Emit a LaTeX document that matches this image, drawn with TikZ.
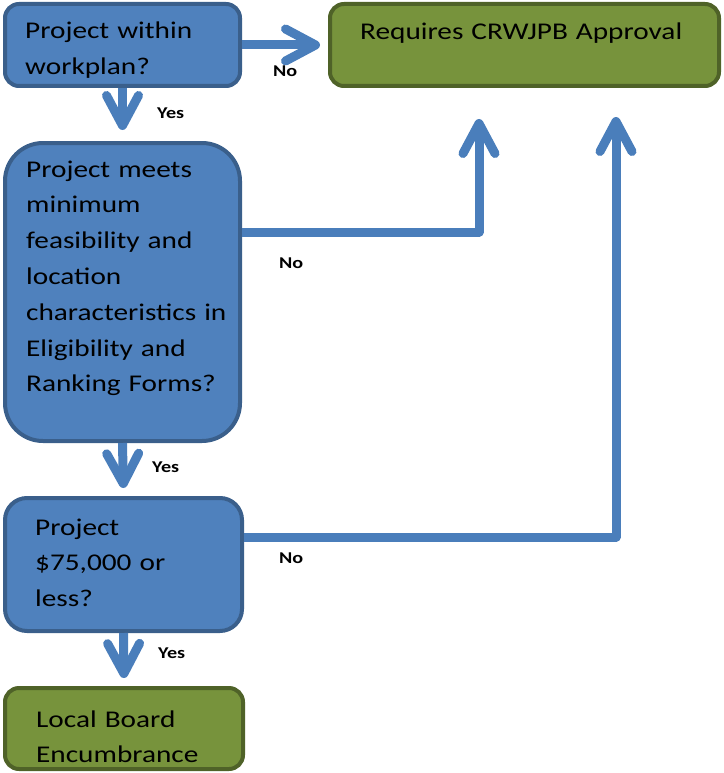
\documentclass[tikz,border=0pt]{standalone}
\usepackage{fontspec}
\setmainfont{Carlito}[FakeStretch=1.22]
\usetikzlibrary{arrows.meta}
\definecolor{bfill}{HTML}{4F81BD}
\definecolor{bline}{HTML}{3A5F8B}
\definecolor{gfill}{HTML}{77933C}
\definecolor{gline}{HTML}{4F6228}
\definecolor{arr}{HTML}{4A7EBB}
\begin{document}
\begin{tikzpicture}[x=1pt,y=-1pt,
  bluebox/.style={draw=bline,fill=bfill,line width=4pt,inner sep=0pt,rounded corners=#1},
  greenbox/.style={draw=gline,fill=gfill,line width=4pt,inner sep=0pt,rounded corners=#1},
  boxtext/.style={anchor=base west,inner sep=0pt,align=left,text width=218pt,font=\fontsize{24}{35.8}\selectfont},
  lbl/.style={anchor=base west,inner sep=0pt,font=\fontsize{16.5}{18}\selectfont\bfseries},
  flow/.style={draw=arr,line width=9pt,line join=round,-{Straight Barb[length=30pt,width=32pt,round]}}]
\useasboundingbox (0,0) rectangle (723,773);
% boxes
\node[bluebox=14pt,minimum width=235pt,minimum height=82pt] (b1) at (122.5,45) {};
\node[greenbox=14pt,minimum width=389pt,minimum height=82pt] (req) at (524.5,45) {};
\node[bluebox=38pt,minimum width=235pt,minimum height=298pt] (b2) at (122.5,292) {};
\node[bluebox=22pt,minimum width=237pt,minimum height=133pt] (b3) at (123.5,564.5) {};
\node[greenbox=14pt,minimum width=238pt,minimum height=81pt] (b4) at (124,728.5) {};
% texts
\node[boxtext] (t1) at (25,39) {Project within\\workplan?};
\node[boxtext,text width=350pt] (treq) at (360,40) {Requires CRWJPB Approval};
\node[boxtext] (t2) at (26,177) {Project meets\\minimum\\feasibility and\\location\\characteristics in\\Eligibility and\\Ranking Forms?};
\node[boxtext] (t3) at (35,535) {Project\\\$75,000 or\\less?};
\node[boxtext] (t4) at (36,727) {Local Board\\Encumbrance};
% tips
\coordinate (tip1) at (479,119);
\coordinate (tip2) at (616,117);
% connectors
\draw[flow,shorten >=8pt] (b1.east) -- (req.west);
\draw[flow,shorten >=11pt] (b1.south) -- (b2.north);
\draw[flow,shorten >=8pt] (b2.south) -- (b3.north);
\draw[flow,shorten >=8pt] (b3.south) -- (b4.north);
\draw[flow] ([yshift=60pt]b2.east) -| (tip1);
\draw[flow] ([yshift=27.5pt]b3.east) -| (tip2);
% labels
\node[lbl] (n1) at (273,77) {No};
\node[lbl] (y1) at (157,119) {Yes};
\node[lbl] (n2) at (279,268) {No};
\node[lbl] (y2) at (152,472) {Yes};
\node[lbl] (n3) at (279,563) {No};
\node[lbl] (y3) at (158,658) {Yes};
\end{tikzpicture}
\end{document}
